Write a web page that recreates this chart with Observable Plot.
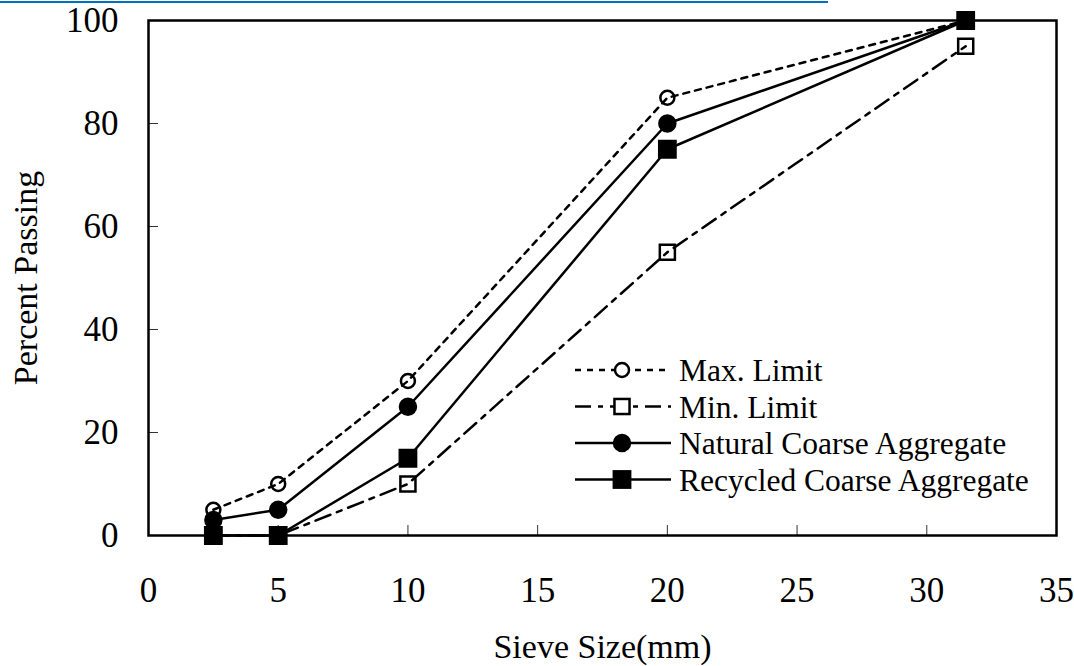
<!DOCTYPE html>
<html>
<head>
<meta charset="utf-8">
<script src="https://cdn.jsdelivr.net/npm/d3@7"></script>
<script src="https://cdn.jsdelivr.net/npm/@observablehq/plot@0.6"></script>
<style>
  body { margin: 0; background: #fff; }
  #chart { position: relative; width: 1074px; height: 666px; font-family: "Liberation Serif", "Times New Roman", serif; }
  #topRule { position: absolute; left: 0; top: 1px; width: 828px; height: 2px; background: #0070C0; }
  #chart svg.legend { position: absolute; left: 0; top: 0; }
</style>
</head>
<body>
<div id="chart"><div id="topRule"></div></div>
<script>
// Grading curves: percent passing by sieve size
const sieveSize  = [2.5, 5, 10, 20, 31.5];
const maxLimit   = [5, 10, 30, 85, 100];
const minLimit   = [0, 0, 10, 55, 95];
const naturalCA  = [3, 5, 25, 80, 100];
const recycledCA = [0, 0, 15, 75, 100];

const seriesNames = ["Max. Limit", "Min. Limit", "Natural Coarse Aggregate", "Recycled Coarse Aggregate"];
const xTicks = [0, 5, 10, 15, 20, 25, 30, 35];
const yTicks = [0, 20, 40, 60, 80, 100];
const xTitle = "Sieve Size(mm)";
const yTitle = "Percent Passing";

const series = [
  {name: seriesNames[0], values: maxLimit,   dash: "6,6",      symbol: "circle", fill: "none"},
  {name: seriesNames[1], values: minLimit,   dash: "16,7,5,7", symbol: "square", fill: "none"},
  {name: seriesNames[2], values: naturalCA,  dash: null,       symbol: "circle", fill: "black"},
  {name: seriesNames[3], values: recycledCA, dash: null,       symbol: "square", fill: "black"}
];

// marker radius for Plot.dot (a square's side is r·√π)
function markerR(s) {
  if (s.symbol === "circle") return s.fill === "none" ? 7 : 8;
  return s.fill === "none" ? 8.5 : 9.2;
}

const rows = series.flatMap(s => sieveSize.map((x, i) => ({series: s.name, x, y: s.values[i]})));

const marks = [
  Plot.axisX(xTicks, {tickSize: -10, tickPadding: 52, fontSize: 35, stroke: "#333", strokeWidth: 1, label: null, fill: "black"}),
  Plot.axisY(yTicks, {tickSize: -10, tickPadding: 40, fontSize: 35, stroke: "#333", strokeWidth: 1, label: null, fill: "black"}),
  Plot.text([xTitle], {frameAnchor: "bottom", lineAnchor: "middle", textAnchor: "middle", dy: 112, fontSize: 34, fill: "black"}),
  Plot.text([yTitle], {frameAnchor: "left", lineAnchor: "middle", textAnchor: "middle", dx: -122, rotate: -90, fontSize: 34, fill: "black"})
];

for (const s of series) {
  const d = rows.filter(r => r.series === s.name);
  marks.push(Plot.line(d, {x: "x", y: "y", stroke: "black", strokeWidth: 2.5, strokeDasharray: s.dash}));
}
for (const s of series) {
  const d = rows.filter(r => r.series === s.name);
  marks.push(Plot.dot(d, {
    x: "x", y: "y", symbol: s.symbol, r: markerR(s),
    fill: s.fill, stroke: "black", strokeWidth: 2.5
  }));
}
marks.push(Plot.frame({stroke: "black", strokeWidth: 2.5}));

const chart = Plot.plot({
  width: 1074,
  height: 666,
  marginLeft: 148,
  marginRight: 18,
  marginTop: 20,
  marginBottom: 131,
  style: {fontFamily: '"Liberation Serif", "Times New Roman", serif', background: "transparent", overflow: "visible"},
  x: {domain: [0, 35]},
  y: {domain: [0, 100]},
  marks
});
document.getElementById("chart").appendChild(chart);

// Legend drawn as an overlay inside the plot area
const legend = d3.select("#chart").append("svg")
  .attr("class", "legend")
  .attr("width", 1074).attr("height", 666);
const lx0 = 575, lx1 = 671, lxm = 622, ltx = 679, ly0 = 370, lstep = 36.5;
series.forEach((s, i) => {
  const y = ly0 + i * lstep;
  const g = legend.append("g");
  g.append("line").attr("x1", lx0).attr("x2", lx1).attr("y1", y).attr("y2", y)
    .attr("stroke", "black").attr("stroke-width", 2.5)
    .attr("stroke-dasharray", s.dash);
  const fill = s.fill === "none" ? "white" : s.fill;
  if (s.symbol === "circle") {
    g.append("circle").attr("cx", lxm).attr("cy", y).attr("r", markerR(s))
      .attr("fill", fill).attr("stroke", "black").attr("stroke-width", 2.5);
  } else {
    const size = markerR(s) * Math.sqrt(Math.PI);
    g.append("rect").attr("x", lxm - size / 2).attr("y", y - size / 2).attr("width", size).attr("height", size)
      .attr("fill", fill).attr("stroke", "black").attr("stroke-width", 2.5);
  }
  g.append("text").attr("x", ltx).attr("y", y).attr("dy", "0.35em")
    .attr("font-family", '"Liberation Serif", "Times New Roman", serif')
    .attr("font-size", 31.5).attr("fill", "black").text(s.name);
});
</script>
</body>
</html>
